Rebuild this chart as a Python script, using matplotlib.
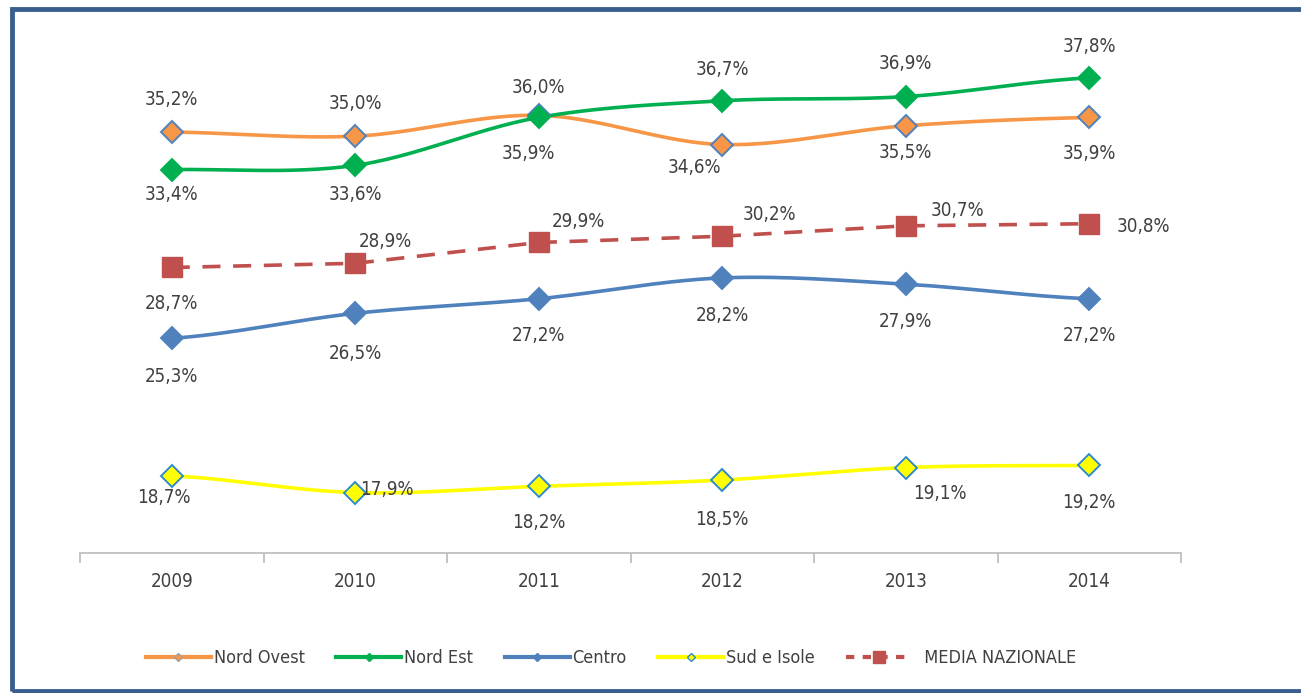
import numpy as np
import matplotlib
matplotlib.use("Agg")
import matplotlib.pyplot as plt
from matplotlib.lines import Line2D
from matplotlib.patches import Rectangle

# data
years = ["2009", "2010", "2011", "2012", "2013", "2014"]
nord_ovest = [35.2, 35.0, 36.0, 34.6, 35.5, 35.9]
nord_est = [33.4, 33.6, 35.9, 36.7, 36.9, 37.8]
centro = [25.3, 26.5, 27.2, 28.2, 27.9, 27.2]
sud_isole = [18.7, 17.9, 18.2, 18.5, 19.1, 19.2]
media = [28.7, 28.9, 29.9, 30.2, 30.7, 30.8]

# label offsets (pixels) per point
off_no = [(0, 33), (0, 33), (0, 28), (-28, -23), (0, -27), (0, -36)]
off_ne = [(0, -25), (0, -29), (-10, -36), (0, 31), (0, 33), (0, 31)]
off_ce = [(0, -38), (0, -40), (0, -37), (0, -38), (0, -37), (0, -37)]
off_su = [(-8, -22), (32, 3), (0, -36), (0, -39), (34, -26), (0, -37)]
off_me = [(0, -36), (30, 22), (40, 21), (47, 22), (52, 15), (54, -3)]

plt.rcParams['font.family'] = ['DejaVu Sans']
plt.rcParams['font.stretch'] = 'condensed'
txt = '#404040'


def smooth(y, n=30):
    # catmull-rom style smoothing like excel
    y = np.asarray(y, float)
    x = np.arange(len(y), dtype=float)
    xs, ys = [], []
    for i in range(len(y) - 1):
        p0 = y[i - 1] if i > 0 else y[i]
        p3 = y[i + 2] if i + 2 < len(y) else y[i + 1]
        p1, p2 = y[i], y[i + 1]
        t = np.linspace(0, 1, n)
        c1 = p1 + (p2 - p0) / 6
        c2 = p2 - (p3 - p1) / 6
        yy = (1 - t)**3 * p1 + 3 * (1 - t)**2 * t * c1 + 3 * (1 - t) * t**2 * c2 + t**3 * p2
        xs.append(x[i] + t)
        ys.append(yy)
    return np.concatenate(xs), np.concatenate(ys)


fig = plt.figure(figsize=(13.01, 6.93), dpi=100)
ax = fig.add_axes([80 / 1301, 140 / 693, 1101 / 1301, 521 / 693])

x = np.arange(len(years))
series = [
    (nord_ovest, '#F79646', 'D', '#F79646', '#4F81BD', 11, off_no),
    (nord_est, '#00B050', 'D', '#00B050', '#00B050', 11, off_ne),
    (centro, '#4F81BD', 'D', '#4F81BD', '#4F81BD', 11, off_ce),
    (sud_isole, '#FFFF00', 'D', '#FFFF00', '#2E8BD0', 11, off_su),
]
for vals, col, mk, fc, ec, ms, offs in series:
    sx, sy = smooth(vals)
    ax.plot(sx, sy, color=col, lw=2.6, solid_capstyle='round', zorder=2)
    ax.plot(x, vals, ls='none', marker=mk, ms=ms, mfc=fc, mec=ec, mew=1.4, zorder=3)
    for i, v in enumerate(vals):
        ax.annotate(f"{v:.1f}%".replace('.', ','), (x[i], v), xytext=offs[i],
                    textcoords='offset pixels', ha='center', va='center',
                    fontsize=13.5, color=txt)

ax.plot(x, media, color='#C0504D', lw=2.6, ls=(0, (5, 3.5)), zorder=2)
ax.plot(x, media, ls='none', marker='s', ms=14, mfc='#C0504D', mec='#C0504D', zorder=3)
for i, v in enumerate(media):
    ax.annotate(f"{v:.1f}%".replace('.', ','), (x[i], v), xytext=off_me[i],
                textcoords='offset pixels', ha='center', va='center',
                fontsize=13.5, color=txt)

ax.set_xlim(-0.5, 5.5)
ax.set_ylim(15, 40)
ax.set_yticks([])
for s in ['top', 'right', 'left']:
    ax.spines[s].set_visible(False)
ax.spines['bottom'].set_color('#BFBFBF')
ax.spines['bottom'].set_linewidth(1.3)
ax.set_xticks(np.arange(-0.5, 6, 1), minor=False)
ax.set_xticklabels([])
ax.tick_params(axis='x', which='major', length=7, color='#BFBFBF', width=1.3)
ax.set_xticks(x, minor=True)
ax.set_xticklabels(years, minor=True)
ax.tick_params(axis='x', which='minor', length=0, pad=14, labelsize=13.5, labelcolor=txt)

handles = [
    Line2D([], [], color='#F79646', lw=3, marker='D', ms=4, mfc='#F79646', mec='#A0A0A0'),
    Line2D([], [], color='#00B050', lw=3, marker='D', ms=4, mfc='#00B050', mec='#00B050'),
    Line2D([], [], color='#4F81BD', lw=3, marker='D', ms=4, mfc='#4F81BD', mec='#4F81BD'),
    Line2D([], [], color='#FFFF00', lw=3, marker='D', ms=4, mfc='#FFFF00', mec='#2E8BD0'),
    Line2D([], [], color='#C0504D', lw=3, ls=(0, (2, 2)), marker='s', ms=8, mfc='#C0504D', mec='#C0504D'),
]
labels = ["Nord Ovest", "Nord Est", "Centro", "Sud e Isole", "  MEDIA NAZIONALE"]
fig.legend(handles, labels, loc='center', bbox_to_anchor=(611 / 1301, 1 - 658 / 693),
           ncol=5, frameon=False, fontsize=13, labelcolor=txt, handlelength=3.6,
           handletextpad=0.15, columnspacing=1.75)

fig.patches.append(Rectangle((11.5 / 1301, 2 / 693), 1.0, 682.5 / 693, transform=fig.transFigure,
                             fill=False, edgecolor='#3A5F8F', lw=3.5))

fig.savefig('out.png', dpi=100)
